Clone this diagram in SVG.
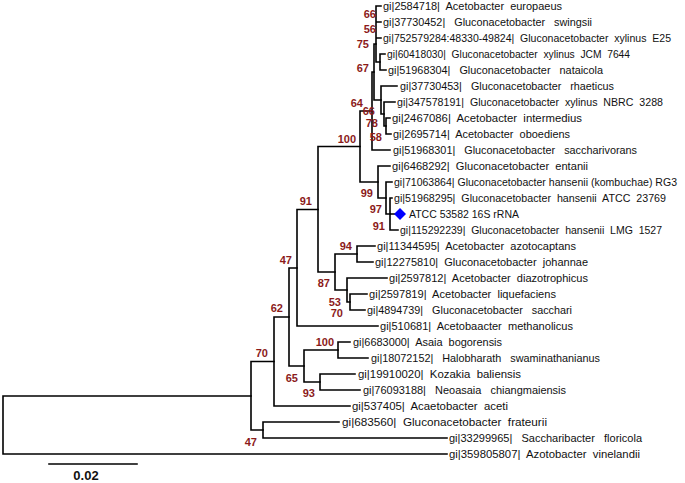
<svg xmlns="http://www.w3.org/2000/svg" width="685" height="483" viewBox="0 0 685 483">
<style>
.br{fill:none;stroke:#000;stroke-width:1.6;stroke-linecap:square}
.t{font-family:"Liberation Sans",Arial,sans-serif;font-size:11px;fill:#111;white-space:pre}
.b{font-family:"Liberation Sans",Arial,sans-serif;font-size:11px;font-weight:bold;fill:#8B1A1A;text-anchor:end}
.sc{font-family:"Liberation Sans",Arial,sans-serif;font-size:13px;font-weight:bold;fill:#111;text-anchor:middle}
</style>
<rect width="685" height="483" fill="#fff"/>
<g id="connectors" class="br">
<path d="M3 396V454M3 396H251M3 454H447"/>
<path d="M251 361.5V430M251 361.5H274M251 430H263"/>
<path d="M263 422V438M263 422H339M263 438H447"/>
<path d="M274 317V406M274 317H289M274 406H350"/>
<path d="M289 268V366M289 268H297M289 366H304"/>
<path d="M304 350V382M304 350H338M304 382H320"/>
<path d="M338 342V358M338 342H350M338 358H368"/>
<path d="M320 374V390M320 374H355M320 390H360"/>
<path d="M297 209.5V326M297 209.5H318M297 326H378"/>
<path d="M318 146.5V272M318 146.5H360M318 272H335"/>
<path d="M335 254V290M335 254H357M335 290H347"/>
<path d="M357 246V262M357 246H375M357 262H373"/>
<path d="M347 278V302M347 278H387M347 302H350"/>
<path d="M350 294V310M350 294H367M350 310H365"/>
<path d="M360 111V182M360 111H372M360 182H378"/>
<path d="M372 72V150M372 72H374M372 150H390"/>
<path d="M374 44V100M374 44H376M374 100H381"/>
<path d="M376 6V62M376 6H381M376 22H381M376 38H381M376 62H380"/>
<path d="M380 54V70M380 54H385M380 70H386"/>
<path d="M381 86V114M381 86H397M381 114H384"/>
<path d="M384 102V126M384 102H395M384 126H386"/>
<path d="M386 118V134M386 118H390M386 134H391"/>
<path d="M378 166V198M378 166H390M378 198H386"/>
<path d="M386 182V214M386 182H392M386 214H390"/>
<path d="M390 198V230M390 198H392M390 214H395M390 230H398"/>
<path d="M49 464H137"/>
</g>
<g id="leaves" xml:space="preserve">
<g id="n1"><text class="t" x="383" y="10" textLength="179" lengthAdjust="spacingAndGlyphs">gi|2584718|  Acetobacter  europaeus</text></g>
<g id="n2"><text class="t" x="383" y="26" textLength="209" lengthAdjust="spacingAndGlyphs">gi|37730452|   Gluconacetobacter   swingsii</text></g>
<g id="n3"><text class="t" x="383" y="42" textLength="288" lengthAdjust="spacingAndGlyphs">gi|752579284:48330-49824|  Gluconacetobacter  xylinus  E25</text></g>
<g id="n4"><text class="t" x="387" y="58" textLength="243" lengthAdjust="spacingAndGlyphs">gi|60418030|  Gluconacetobacter  xylinus  JCM  7644</text></g>
<g id="n5"><text class="t" x="388" y="74" textLength="215" lengthAdjust="spacingAndGlyphs">gi|51968304|   Gluconacetobacter   nataicola</text></g>
<g id="n6"><text class="t" x="400" y="90" textLength="214" lengthAdjust="spacingAndGlyphs">gi|37730453|   Gluconacetobacter   rhaeticus</text></g>
<g id="n7"><text class="t" x="397" y="106" textLength="266" lengthAdjust="spacingAndGlyphs">gi|347578191|  Gluconacetobacter  xylinus  NBRC  3288</text></g>
<g id="n8"><text class="t" x="392" y="122" textLength="190" lengthAdjust="spacingAndGlyphs">gi|2467086|  Acetobacter  intermedius</text></g>
<g id="n9"><text class="t" x="393" y="138" textLength="177" lengthAdjust="spacingAndGlyphs">gi|2695714|  Acetobacter  oboediens</text></g>
<g id="n10"><text class="t" x="393" y="154" textLength="244" lengthAdjust="spacingAndGlyphs">gi|51968301|   Gluconacetobacter   saccharivorans</text></g>
<g id="n11"><text class="t" x="392" y="170" textLength="196" lengthAdjust="spacingAndGlyphs">gi|6468292|  Gluconacetobacter  entanii</text></g>
<g id="n12"><text class="t" x="394" y="186" style="font-size:10.5px" textLength="283" lengthAdjust="spacingAndGlyphs">gi|71063864| Gluconacetobacter hansenii (kombuchae) RG3</text></g>
<g id="n13"><text class="t" x="394" y="202" textLength="272" lengthAdjust="spacingAndGlyphs">gi|51968295|  Gluconacetobacter  hansenii  ATCC  23769</text></g>
<g id="n14"><path d="M400 208L406 214L400 220L394 214Z" fill="#0000FF"/><text class="t" x="409" y="218" textLength="110" lengthAdjust="spacingAndGlyphs">ATCC 53582 16S rRNA</text></g>
<g id="n15"><text class="t" x="400" y="234" textLength="262" lengthAdjust="spacingAndGlyphs">gi|115292239|  Gluconacetobacter  hansenii  LMG  1527</text></g>
<g id="n16"><text class="t" x="377" y="250" textLength="199" lengthAdjust="spacingAndGlyphs">gi|11344595|  Acetobacter  azotocaptans</text></g>
<g id="n17"><text class="t" x="375" y="266" textLength="213" lengthAdjust="spacingAndGlyphs">gi|12275810|  Gluconacetobacter  johannae</text></g>
<g id="n18"><text class="t" x="389" y="282" textLength="199" lengthAdjust="spacingAndGlyphs">gi|2597812|  Acetobacter  diazotrophicus</text></g>
<g id="n19"><text class="t" x="369" y="298" textLength="187" lengthAdjust="spacingAndGlyphs">gi|2597819|  Acetobacter  liquefaciens</text></g>
<g id="n20"><text class="t" x="367" y="314" textLength="205" lengthAdjust="spacingAndGlyphs">gi|4894739|   Gluconacetobacter   sacchari</text></g>
<g id="n21"><text class="t" x="380" y="330" textLength="193" lengthAdjust="spacingAndGlyphs">gi|510681|  Acetobaacter  methanolicus</text></g>
<g id="n22"><text class="t" x="353" y="346" textLength="149" lengthAdjust="spacingAndGlyphs">gi|6683000|  Asaia  bogorensis</text></g>
<g id="n23"><text class="t" x="371" y="362" textLength="229" lengthAdjust="spacingAndGlyphs">gi|18072152|   Halobharath   swaminathanianus</text></g>
<g id="n24"><text class="t" x="358" y="378" textLength="163" lengthAdjust="spacingAndGlyphs">gi|19910020|  Kozakia  baliensis</text></g>
<g id="n25"><text class="t" x="363" y="394" textLength="203" lengthAdjust="spacingAndGlyphs">gi|76093188|   Neoasaia   chiangmaiensis</text></g>
<g id="n26"><text class="t" x="352" y="410" textLength="156" lengthAdjust="spacingAndGlyphs">gi|537405|  Acaetobacter  aceti</text></g>
<g id="n27"><text class="t" x="342" y="426" textLength="205" lengthAdjust="spacingAndGlyphs">gi|683560|  Gluconacetobacter  frateurii</text></g>
<g id="n28"><text class="t" x="449" y="442" textLength="193" lengthAdjust="spacingAndGlyphs">gi|33299965|   Saccharibacter   floricola</text></g>
<g id="n29"><text class="t" x="449" y="458" textLength="191" lengthAdjust="spacingAndGlyphs">gi|359805807|  Azotobacter  vinelandii</text></g>
</g>
<g id="bootstrap">
<text class="b" x="376" y="18">66</text>
<text class="b" x="376" y="33">56</text>
<text class="b" x="369" y="48">75</text>
<text class="b" x="369" y="72">67</text>
<text class="b" x="363" y="107">64</text>
<text class="b" x="375" y="115">66</text>
<text class="b" x="378" y="127">78</text>
<text class="b" x="382" y="141">58</text>
<text class="b" x="356" y="143">100</text>
<text class="b" x="373" y="197">99</text>
<text class="b" x="382" y="213">97</text>
<text class="b" x="385" y="230">91</text>
<text class="b" x="312" y="205">91</text>
<text class="b" x="352" y="250">94</text>
<text class="b" x="330" y="287">87</text>
<text class="b" x="341" y="306">53</text>
<text class="b" x="343" y="317">70</text>
<text class="b" x="292" y="264">47</text>
<text class="b" x="283" y="312">62</text>
<text class="b" x="334" y="346">100</text>
<text class="b" x="298" y="382">65</text>
<text class="b" x="315" y="397">93</text>
<text class="b" x="268" y="357">70</text>
<text class="b" x="257" y="446">47</text>
</g>
<g id="scale"><text class="sc" x="86" y="480">0.02</text></g>
</svg>
